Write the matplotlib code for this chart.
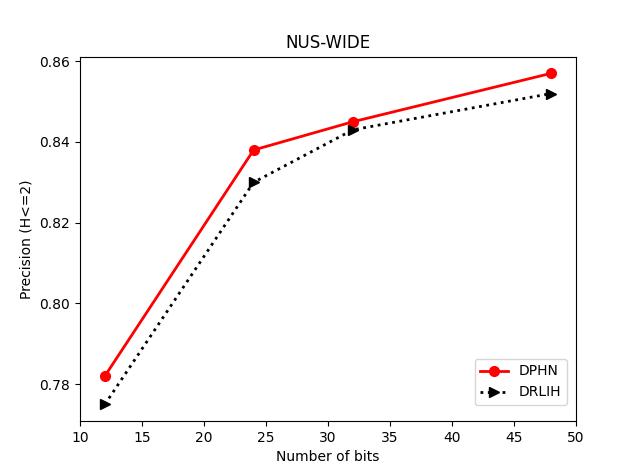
import matplotlib
matplotlib.use("Agg")
import matplotlib.pyplot as plt

bits = [12, 24, 32, 48]
dphn = [0.782, 0.838, 0.845, 0.857]
drlih = [0.775, 0.830, 0.843, 0.852]

fig, ax = plt.subplots(figsize=(6.4, 4.73), dpi=100)
ax.plot(bits, dphn, color='red', marker='o', linewidth=2, markersize=7, label='DPHN')
ax.plot(bits, drlih, color='black', marker='>', linestyle=':', linewidth=2, markersize=7, label='DRLIH')
ax.set_xlim(10, 50)
ax.set_xlabel('Number of bits')
ax.set_ylabel('Precision (H<=2)')
ax.set_title('NUS-WIDE')
ax.legend(loc='lower right', bbox_to_anchor=(0.996, 0.025))
fig.savefig('out.png', dpi=100)
